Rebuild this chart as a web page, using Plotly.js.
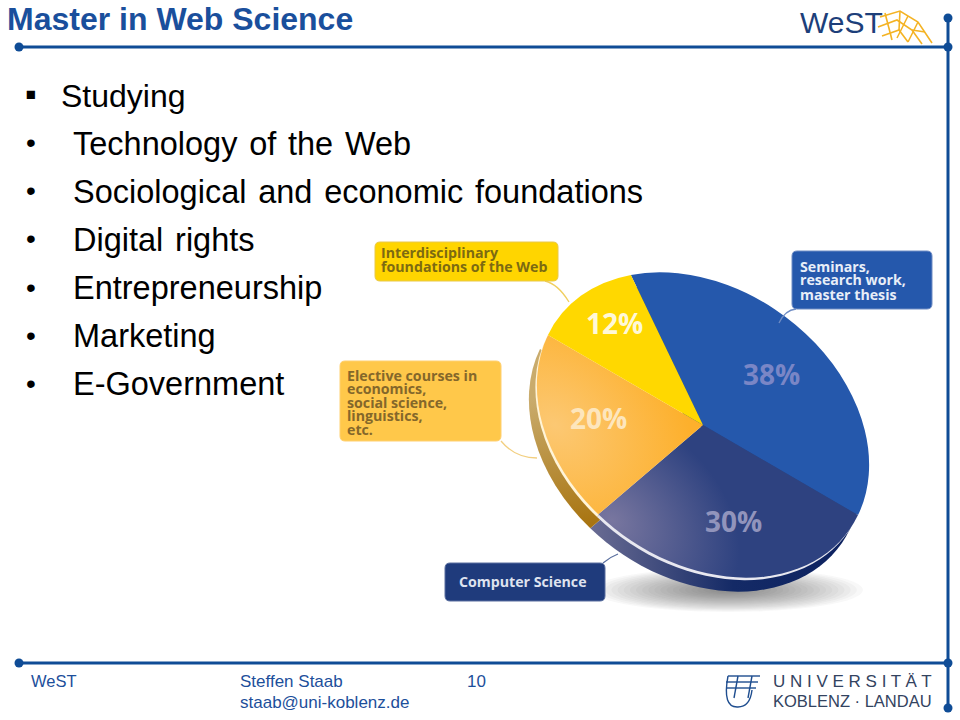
<!DOCTYPE html>
<html><head><meta charset="utf-8">
<script src="https://cdn.plot.ly/plotly-3.0.1.min.js"></script>
<style>html,body{margin:0;padding:0;background:#fff}</style></head>
<body><div id="chart" style="width:960px;height:720px"></div>
<script>
var sliceNames = ['Seminars, research work, master thesis','Computer Science','Elective courses in economics, social science, linguistics, etc.','Interdisciplinary foundations of the Web'];
var sliceValues = [38,30,20,12];
var topColors = ['#2558ac','#2e4280','#fdb02c','#ffd800'];
var edgeColors = ['#1d4a94','#2a3b78','#a87c28','rgba(0,0,0,0)'];
var rimColors = ['rgba(0,0,0,0)','#e8e8f0','#fff4d8','rgba(0,0,0,0)'];
var pctColors = ['#7a86c6','#9194bc','#fde6bd','#fff8d8'];
var pctX = [771,733,598,614];
var pctY = [374,521,418,323];
var bulletItems = ['Technology of the Web','Sociological and economic foundations','Digital rights','Entrepreneurship','Marketing','E-Government'];
var headItem = 'Studying';
var titleText = 'Master in Web Science';
var W=960,H=720,BLUE='#0f4c96';
function px(x){return x/W} function py(y){return 1-y/H}
function dom(cx,cy,r){return {x:[px(cx-r),px(cx+r)],y:[py(cy+r),py(cy-r)]}}
function P(x,y){return px(x)+','+py(y)}
function line(x0,y0,x1,y1,c,w){return {type:'line',xref:'paper',yref:'paper',x0:px(x0),y0:py(y0),x1:px(x1),y1:py(y1),line:{color:c,width:w}}}
function dot(x,y,r){return {type:'circle',xref:'paper',yref:'paper',x0:px(x-r),x1:px(x+r),y0:py(y+r),y1:py(y-r),fillcolor:BLUE,line:{width:0}}}
function path(d,c,w,fill,layer){return {type:'path',xref:'paper',yref:'paper',path:d,line:{color:c,width:w},fillcolor:fill||'rgba(0,0,0,0)',layer:layer||'above'}}
function round(x0,y0,x1,y1,r,fill,edge){
  var d='M'+P(x0+r,y0)+'L'+P(x1-r,y0)+'Q'+P(x1,y0)+' '+P(x1,y0+r)+'L'+P(x1,y1-r)+'Q'+P(x1,y1)+' '+P(x1-r,y1)+'L'+P(x0+r,y1)+'Q'+P(x0,y1)+' '+P(x0,y1-r)+'L'+P(x0,y0+r)+'Q'+P(x0,y0)+' '+P(x0+r,y0)+'Z';
  return path(d,edge,1,fill);
}
function txt(s,x,y,size,color,opt){opt=opt||{};return {text:s,xref:'paper',yref:'paper',x:px(x-(opt.anchor?0:2)),y:py(y),xanchor:opt.anchor||'left',yanchor:'middle',align:'left',showarrow:false,
  font:{family:opt.family||'Liberation Sans, Arial, sans-serif',size:size,color:color,weight:opt.bold?700:400}}}
var ann=[], shp=[];
ann.push(txt(titleText,7,19,32,'#1a4f9c',{bold:true}));
ann.push(txt('\u25AA',25,94,33,'#000'));
ann.push(txt(headItem,61,96,32,'#000'));
bulletItems.forEach(function(b,i){var y=144+48*i;ann.push(txt('\u2022',26,y-1,28,'#000'));ann.push(txt(b.replace(/ /g,'\u00A0\u200A'),73,y,32.5,'#000'));});
// frame
shp.push(line(19,47,948,47,BLUE,3),line(19,663,948,663,BLUE,3),line(948,18,948,708,BLUE,3));
[[19,47],[948,47],[948,18],[19,663],[948,663],[948,708]].forEach(function(p){shp.push(dot(p[0],p[1],4.5))});
// footer
var fc='#1d4f9b';
ann.push(txt('WeST',31,681,16.5,fc),txt('Steffen Staab',240,681,17,fc),txt('staab@uni-koblenz.de',240,702,17,fc),txt('10',467,681,17,fc));
ann.push(txt('WeST',800,22,30,'#1d3f7a'));
ann.push(txt('U N I V E R S I T Ä T',773,681,17,'#33435f'),txt('KOBLENZ · LANDAU',773,701,16.5,'#33435f'));
// logos
var g='#f4b324';
['M'+P(880,17)+'L'+P(900,11)+'L'+P(918,22)+'L'+P(932,43),
 'M'+P(878,27)+'L'+P(897,20)+'L'+P(912,30)+'L'+P(922,44),
 'M'+P(882,36)+'L'+P(899,30)+'L'+P(908,42),
 'M'+P(885,13)+'L'+P(892,40),'M'+P(900,11)+'L'+P(899,30),'M'+P(918,22)+'L'+P(908,42),'M'+P(908,16)+'L'+P(897,38),'M'+P(925,32)+'L'+P(912,30)
].forEach(function(d){shp.push(path(d,g,1.6))});
var n='#1e4d8f';
['M'+P(728,676)+'L'+P(760,676),'M'+P(726,682)+'L'+P(758,682),'M'+P(726,688)+'L'+P(756,688),'M'+P(738,676)+'L'+P(734,698),'M'+P(752,676)+'L'+P(748,698),
 'M'+P(728,676)+'Q'+P(722,708)+' '+P(738,707)+'Q'+P(750,707)+' '+P(752,690)].forEach(function(d){shp.push(path(d,n,1.4))});
// callouts
function call(x0,y0,x1,y1,fill,edge,tc,lines,tx,ty,lead,lc,step){
  shp.push(path(lead,lc,1.3));
  shp.push(round(x0,y0,x1,y1,5,fill,edge));
  lines.forEach(function(l,i){ann.push(txt(l,tx,ty+i*step,14.2,tc,{bold:true,family:'Open Sans, sans-serif'}))});
}
call(375,242,558,281,'#ffd500','#e8c84a','#7c6a12',['Interdisciplinary','foundations of the Web'],381,253,'M'+P(545,281)+'Q'+P(558,284)+' '+P(569,302),'#f0cf60',13.3);
call(340,361,501,441,'#ffc84a','#ffd070','#84672a',['Elective courses in','economics,','social science,','linguistics,','etc.'],347,375,'M'+P(501,441)+'Q'+P(515,458)+' '+P(537,458),'#f2cf80',13.5);
call(792,251,932,309,'#2558ac','#6f8cc4','#e8eef8',['Seminars,','research work,','master thesis'],800,266,'M'+P(796,309)+'Q'+P(785,310)+' '+P(779,323),'#6f8cc4',14);
call(445,563,605,601,'#1f3b7c','#5a6f9f','#dfe3ef',['Computer Science'],459,581,'M'+P(603,563)+'Q'+P(610,557)+' '+P(618,554),'#5a6f9f',14);
sliceValues.forEach(function(v,i){ann.push(txt(v+'%',pctX[i],pctY[i],28,pctColors[i],{bold:true,anchor:'center',family:'Open Sans, sans-serif'}))});
// soft ground shadow
for(var k=0;k<22;k++){var f=1-k/22;
  shp.push({type:'circle',xref:'paper',yref:'paper',layer:'below',x0:px(728-135*f),x1:px(728+135*f),y0:py(590+22*f),y1:py(590-22*f),fillcolor:'rgba(50,50,50,0.035)',line:{width:0}});
}
var cx=703,cy=425,r=150,rot=-18.5;
function pie(dx,dy,colors){
  return {type:'pie',labels:sliceNames,values:sliceValues,sort:false,direction:'clockwise',rotation:rot,domain:dom(cx+dx,cy+dy,r),
    marker:{colors:colors,line:{width:0}},showlegend:false,hoverinfo:'skip',textinfo:'none'};
}
var data=[pie(-8,14,edgeColors),pie(-1.5,2.5,rimColors),pie(0,0,topColors)];
Plotly.newPlot('chart',data,{width:W,height:H,margin:{l:0,r:0,t:0,b:0},paper_bgcolor:'#fff',shapes:shp,annotations:ann},{displayModeBar:false,staticPlot:true}).then(function(gd){
  // the printed pie is a tilted ellipse: stretch the slices (not the labels) about their centre
  var phi=36*Math.PI/180,sx=180/r,sy=136/r,c=Math.cos(phi),s=Math.sin(phi);
  var a=c*c*sx+s*s*sy,b=c*s*(sx-sy),d=s*s*sx+c*c*sy,det=a*d-b*b;
  var svg=gd.querySelector('svg.main-svg');var NS='http://www.w3.org/2000/svg';
  function inv(x,y,t){var q=gd.calcdata[t][0],dx=x-q.cx,dy=y-q.cy;return [q.cx+(d*dx-b*dy)/det,q.cy+(a*dy-b*dx)/det];}
  var o=inv(555,425,2),nv=inv(612,520,2),e1=inv(590,530,0),e2=inv(850,590,0),b1=inv(530,400,0),b2=inv(590,525,0);
  var defs=document.createElementNS(NS,'defs');
  defs.innerHTML='<radialGradient id="gOr" gradientUnits="userSpaceOnUse" cx="'+o[0]+'" cy="'+o[1]+'" r="125"><stop offset="0" stop-color="#fcc873"/><stop offset="1" stop-color="#fdb02c"/></radialGradient>'+
   '<radialGradient id="gNv" gradientUnits="userSpaceOnUse" cx="'+nv[0]+'" cy="'+nv[1]+'" r="115"><stop offset="0" stop-color="#78769f"/><stop offset="1" stop-color="#2e4280"/></radialGradient>'+
   '<linearGradient id="gEn" gradientUnits="userSpaceOnUse" x1="'+e1[0]+'" y1="'+e1[1]+'" x2="'+e2[0]+'" y2="'+e2[1]+'"><stop offset="0" stop-color="#6a6c93"/><stop offset=".55" stop-color="#142a66"/><stop offset="1" stop-color="#0d2260"/></linearGradient>'+
   '<linearGradient id="gEo" gradientUnits="userSpaceOnUse" x1="'+b1[0]+'" y1="'+b1[1]+'" x2="'+b2[0]+'" y2="'+b2[1]+'"><stop offset="0" stop-color="#c9ab6c"/><stop offset="1" stop-color="#a87410"/></linearGradient>';
  svg.insertBefore(defs,svg.firstChild);
  var tr=gd.querySelectorAll('.pielayer .trace');
  tr.forEach(function(g,t){var q=gd.calcdata[t][0];
    g.querySelectorAll('.slice path.surface').forEach(function(p){
      p.setAttribute('transform','translate('+q.cx+' '+q.cy+') matrix('+a+' '+b+' '+b+' '+d+' 0 0) translate('+(-q.cx)+' '+(-q.cy)+')');
    });
  });
  function fill(t,i,id){var p=tr[t].querySelectorAll('.slice path.surface')[i];if(p)p.style.fill='url(#'+id+')';}
  fill(2,2,'gOr');fill(2,1,'gNv');fill(0,1,'gEn');fill(0,2,'gEo');
});
</script></body></html>
